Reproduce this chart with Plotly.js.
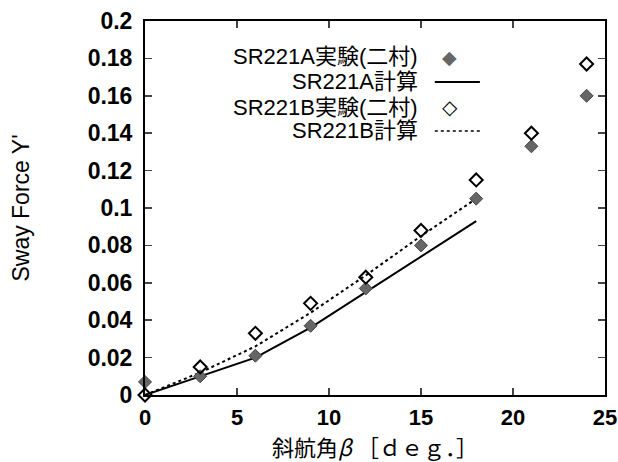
<!DOCTYPE html>
<html><head><meta charset="utf-8">
<script src="https://cdn.plot.ly/plotly-3.0.1.min.js"></script>
<style>body{margin:0;background:#fff}#c{width:618px;height:462px}</style>
</head><body><div id="c"></div>
<script>
const betaExp = [0, 3, 6, 9, 12, 15, 18, 21, 24];
const expA = [0.007, 0.010, 0.021, 0.037, 0.057, 0.080, 0.105, 0.133, 0.160];
const expB = [0.000, 0.015, 0.033, 0.049, 0.063, 0.088, 0.115, 0.140, 0.177];
const betaCalc = [0, 3, 6, 9, 12, 15, 18];
const calcA = [0.000, 0.010, 0.020, 0.036, 0.055, 0.074, 0.093];
const calcB = [0.000, 0.012, 0.026, 0.044, 0.064, 0.085, 0.105];
const legendNames = ['SR221A実験(二村)', 'SR221A計算', 'SR221B実験(二村)', 'SR221B計算'];
const xTitle = '斜航角<i>β</i> ［ｄｅｇ．］';
const yTitle = "Sway Force Y'";

const font = 'Liberation Sans, Arial, Noto Sans CJK JP, sans-serif';
const grayFill = '#666666';
const traces = [
  {x: betaCalc, y: calcA, mode: 'lines', line: {color: '#000', width: 2}, showlegend: false},
  {x: betaCalc, y: calcB, mode: 'lines', line: {color: '#000', width: 2, dash: 'dot'}, showlegend: false},
  {x: betaExp, y: expA, mode: 'markers', marker: {symbol: 'diamond', size: 10, color: grayFill, line: {color: '#444', width: 1}}, showlegend: false, cliponaxis: false},
  {x: betaExp, y: expB, mode: 'markers', marker: {symbol: 'diamond-open', size: 10, color: '#000', line: {width: 2}}, showlegend: false, cliponaxis: false}
];
const legY = [0.904, 0.837, 0.770, 0.706];
const annotations = legendNames.map((t, i) => ({
  xref: 'paper', yref: 'paper', x: 0.596, y: legY[i], xanchor: 'right', yanchor: 'middle',
  text: t, showarrow: false, font: {family: font, size: 22, color: '#000'}, borderpad: 0
}));
annotations.push({xref: 'paper', yref: 'paper', x: 0.663, y: legY[0], text: '◆', showarrow: false, font: {size: 19, color: grayFill, family: 'DejaVu Sans'}, xanchor: 'center', yanchor: 'middle'});
annotations.push({xref: 'paper', yref: 'paper', x: 0.663, y: legY[2], text: '◇', showarrow: false, font: {size: 20, color: '#000', family: 'DejaVu Sans'}, xanchor: 'center', yanchor: 'middle'});
const shapes = [
  {type: 'line', xref: 'paper', yref: 'paper', x0: 0.630, x1: 0.728, y0: legY[1], y1: legY[1], line: {color: '#000', width: 2}},
  {type: 'line', xref: 'paper', yref: 'paper', x0: 0.630, x1: 0.728, y0: legY[3], y1: legY[3], line: {color: '#000', width: 1.5, dash: 'dot'}}
];
const layout = {
  width: 618, height: 462,
  margin: {l: 145, r: 13, t: 21, b: 67},
  paper_bgcolor: '#fff', plot_bgcolor: '#fff',
  font: {family: font, color: '#000'},
  xaxis: {range: [0, 25], dtick: 5, ticks: 'inside', ticklen: 7, tickwidth: 1.5, mirror: 'ticks', showline: true, linecolor: '#000', linewidth: 2,
    showgrid: false, zeroline: false, tickfont: {size: 22, family: font, weight: 'bold'}, ticklabelstandoff: 2,
    title: {text: xTitle, font: {size: 22, family: 'Noto Sans CJK JP, sans-serif'}, standoff: 5}},
  yaxis: {range: [0, 0.2], dtick: 0.02, ticks: 'inside', ticklen: 7, tickwidth: 1.5, mirror: 'ticks', showline: true, linecolor: '#000', linewidth: 2,
    showgrid: false, zeroline: false, tickfont: {size: 23, family: font, weight: 'bold'}, tickformat: '~g', ticklabelstandoff: 6,
    title: {text: yTitle, font: {size: 23, family: font}, standoff: 52}},
  annotations: annotations, shapes: shapes
};
Plotly.newPlot('c', traces, layout, {staticPlot: true});
</script></body></html>
